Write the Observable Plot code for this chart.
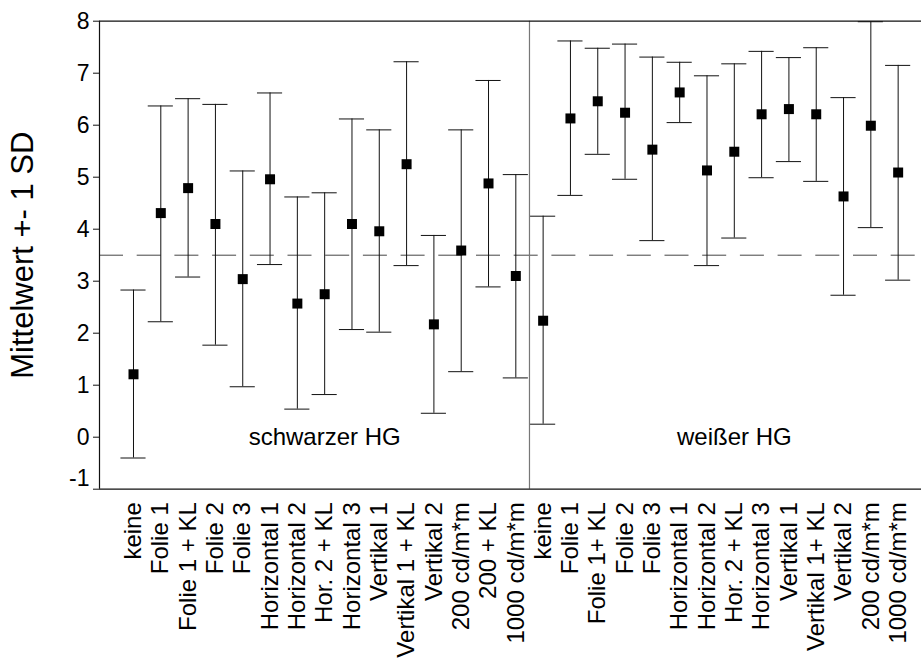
<!DOCTYPE html>
<html>
<head>
<meta charset="utf-8">
<script src="https://cdn.jsdelivr.net/npm/d3@7"></script>
<script src="https://cdn.jsdelivr.net/npm/@observablehq/plot@0.6"></script>
<style>
  html, body { margin: 0; padding: 0; background: #fff; }
</style>
</head>
<body>
<div id="chart"></div>
<script>
// ---- data ----
const groupNames = ["schwarzer HG", "weißer HG"];
const labelsSchwarz = ["keine", "Folie 1", "Folie 1 + KL", "Folie 2", "Folie 3", "Horizontal 1", "Horizontal 2", "Hor. 2 + KL", "Horizontal 3", "Vertikal 1", "Vertikal 1 + KL", "Vertikal 2", "200 cd/m*m", "200 + KL", "1000 cd/m*m"];
const labelsWeiss = ["keine", "Folie 1", "Folie 1+ KL", "Folie 2", "Folie 3", "Horizontal 1", "Horizontal 2", "Hor. 2 + KL", "Horizontal 3", "Vertikal 1", "Vertikal 1+ KL", "Vertikal 2", "200 cd/m*m", "1000 cd/m*m"];

const meanSchwarz  = [1.21, 4.31, 4.79, 4.10, 3.04, 4.96, 2.57, 2.75, 4.10, 3.96, 5.25, 2.17, 3.59, 4.88, 3.10];
const upperSchwarz = [2.83, 6.37, 6.51, 6.40, 5.12, 6.62, 4.62, 4.70, 6.12, 5.91, 7.22, 3.88, 5.91, 6.86, 5.05];
const lowerSchwarz = [-0.40, 2.22, 3.08, 1.77, 0.97, 3.32, 0.54, 0.82, 2.07, 2.02, 3.30, 0.46, 1.26, 2.89, 1.14];

const meanWeiss  = [2.24, 6.13, 6.46, 6.24, 5.53, 6.63, 5.13, 5.49, 6.21, 6.31, 6.21, 4.63, 5.99, 5.09];
const upperWeiss = [4.25, 7.62, 7.48, 7.56, 7.31, 7.21, 6.95, 7.18, 7.42, 7.30, 7.49, 6.53, 7.99, 7.15];
const lowerWeiss = [0.25, 4.65, 5.44, 4.96, 3.78, 6.05, 3.30, 3.83, 4.99, 5.30, 4.92, 2.73, 4.03, 3.02];

const referenceLine = [3.5];
const yTicks = [-1, 0, 1, 2, 3, 4, 5, 6, 7, 8];
const yTitle = "Mittelwert +- 1 SD";

// ---- derived table ----
const categories = [...labelsSchwarz, ...labelsWeiss];
const means = [...meanSchwarz, ...meanWeiss];
const uppers = [...upperSchwarz, ...upperWeiss];
const lowers = [...lowerSchwarz, ...lowerWeiss];
const data = categories.map((label, i) => ({i, label, mean: means[i], hi: uppers[i], lo: lowers[i]}));
const divider = [labelsSchwarz.length - 0.5];
const groups = [
  {name: groupNames[0], x: 7},
  {name: groupNames[1], x: labelsSchwarz.length + 7}
];
const xDomain = [-1.245, categories.length - 1 + 0.855];
const yDomain = [yTicks[0], yTicks[yTicks.length - 1]];
const capHalf = 0.46;
const font = "'Liberation Sans', Arial, Helvetica, sans-serif";

const chart = Plot.plot({
  width: 921,
  height: 659,
  marginLeft: 99,
  marginRight: 0,
  marginTop: 20.7,
  marginBottom: 170.3,
  style: {fontFamily: font, background: "white", color: "black", overflow: "visible"},
  x: {type: "linear", domain: xDomain, axis: null},
  y: {type: "linear", domain: yDomain, axis: null},
  marks: [
    Plot.ruleY(referenceLine, {stroke: "#444", strokeWidth: 1, strokeDasharray: "24,13.7"}),
    Plot.ruleX(divider, {y1: yDomain[0], y2: yDomain[1], stroke: "#777", strokeWidth: 1.2}),
    Plot.ruleX(data, {x: "i", y1: "lo", y2: "hi", stroke: "#111", strokeWidth: 1}),
    Plot.ruleY(data, {y: "hi", x1: d => d.i - capHalf, x2: d => d.i + capHalf, stroke: "#111", strokeWidth: 1}),
    Plot.ruleY(data, {y: "lo", x1: d => d.i - capHalf, x2: d => d.i + capHalf, stroke: "#111", strokeWidth: 1}),
    Plot.dot(data, {x: "i", y: "mean", symbol: "square", r: 5.64, fill: "black", stroke: "none"}),
    // frame lines
    Plot.ruleY([yDomain[1]], {stroke: "#111", strokeWidth: 1.2}),
    Plot.ruleY([yDomain[0]], {stroke: "#111", strokeWidth: 1.2}),
    Plot.ruleX([xDomain[0]], {y1: yDomain[0], y2: yDomain[1], stroke: "#111", strokeWidth: 1.2}),
    // y axis ticks (marks only)
    Plot.axisY({ticks: yTicks, tickSize: 6, tickFormat: () => "", label: null, stroke: "#111"}),
    // y tick labels
    Plot.text(yTicks.filter(d => d !== -1), {x: () => xDomain[0], y: d => d, text: d => String(d), dx: -10, textAnchor: "end", fontSize: 23, fill: "black"}),
    Plot.text(yTicks.filter(d => d === -1), {x: () => xDomain[0], y: d => d, text: d => "-" + Math.abs(d), dx: -10, dy: -10.5, textAnchor: "end", fontSize: 23, fill: "black"}),
    // x tick labels
    Plot.text(data, {x: "i", y: () => yDomain[0], text: "label", rotate: -90, textAnchor: "end", lineAnchor: "middle", dy: 13, fontSize: 24, fill: "black"}),
    // titles
    Plot.text([yTitle], {frameAnchor: "left", dx: -76, rotate: -90, textAnchor: "middle", fontSize: 31, fill: "black"}),
    Plot.text(groups, {x: "x", y: 0, text: "name", fontSize: 24, fill: "black"})
  ]
});
document.getElementById("chart").appendChild(chart);
</script>
</body>
</html>
